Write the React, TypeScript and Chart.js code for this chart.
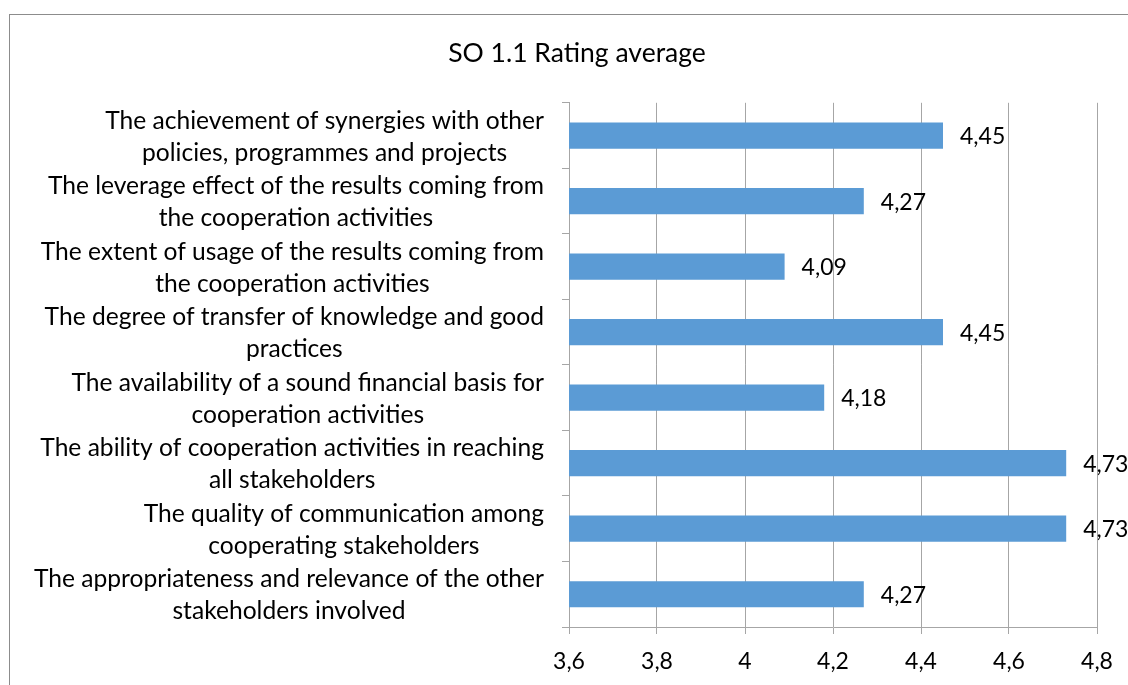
import React, { useEffect, useRef } from "react";
import { Chart, registerables } from "chart.js";

Chart.register(...registerables);

const categories: string[][] = [
  ["The achievement of synergies with other", "policies, programmes and projects"],
  ["The leverage effect of the results coming from", "the cooperation activities"],
  ["The extent of usage of the results coming from", "the cooperation activities"],
  ["The degree of transfer of knowledge and good", "practices"],
  ["The availability of a sound financial basis for", "cooperation activities"],
  ["The ability of cooperation activities in reaching", "all stakeholders"],
  ["The quality of communication among", "cooperating stakeholders"],
  ["The appropriateness and relevance of the other", "stakeholders involved"],
];
const values: number[] = [4.45, 4.27, 4.09, 4.45, 4.18, 4.73, 4.73, 4.27];
const xMin = 3.6;
const xMax = 4.8;
const xStep = 0.2;
const title = "SO 1.1 Rating average";

const FONT = "Lato, 'Noto Sans', sans-serif";
const GRID = "#A6A6A6";

const fmtTick = (v: number) => String(Math.round(v * 10) / 10).replace(".", ",");
const fmtVal = (v: number) => v.toFixed(2).replace(".", ",");

const customPlugin = {
  id: "customDraw",
  beforeDraw(chart: any) {
    const ctx = chart.ctx;
    ctx.save();
    ctx.strokeStyle = "#8C8C8C";
    ctx.lineWidth = 1;
    ctx.strokeRect(9.5, 14.5, 1400, 900);
    ctx.restore();
  },
  afterDatasetsDraw(chart: any) {
    const ctx = chart.ctx;
    const meta = chart.getDatasetMeta(0);
    ctx.save();
    ctx.font = `23px ${FONT}`;
    ctx.fillStyle = "#000";
    ctx.textAlign = "left";
    ctx.textBaseline = "middle";
    meta.data.forEach((el: any, i: number) => {
      ctx.fillText(fmtVal(values[i]), el.x + 17, el.y + 1);
    });
    ctx.restore();
  },
  afterDraw(chart: any) {
    const ctx = chart.ctx;
    const yScale = chart.scales.y;
    const right = chart.chartArea.left - 25;
    const lineH = 32;
    ctx.save();
    ctx.font = `24.6px ${FONT}`;
    ctx.fillStyle = "#000";
    ctx.textAlign = "center";
    ctx.textBaseline = "middle";
    categories.forEach((lines, i) => {
      const y = yScale.getPixelForTick(i) + 1;
      const maxW = Math.max(...lines.map((l) => ctx.measureText(l).width));
      const cx = right - maxW / 2;
      const y0 = y - ((lines.length - 1) * lineH) / 2;
      lines.forEach((l, j) => ctx.fillText(l, cx, y0 + j * lineH));
    });
    ctx.restore();
  },
};

export default function App() {
  const ref = useRef<HTMLCanvasElement | null>(null);
  useEffect(() => {
    if (!ref.current) return;
    const chart = new Chart(ref.current, {
      type: "bar",
      data: {
        labels: categories.map((c) => c.join(" ")),
        datasets: [
          {
            data: values,
            backgroundColor: "#5B9BD5",
            borderWidth: 0,
            barPercentage: 0.4,
            categoryPercentage: 1,
          },
        ],
      },
      options: {
        indexAxis: "y",
        responsive: false,
        animation: false,
        layout: { padding: { left: 57, right: 31, top: 0, bottom: 0 } },
        plugins: {
          legend: { display: false },
          tooltip: { enabled: false },
          title: {
            display: true,
            text: title,
            color: "#000",
            font: { family: FONT, size: 26.5, weight: "normal", lineHeight: 1.2 },
            padding: { top: 38, bottom: 33 },
          },
        },
        scales: {
          x: {
            min: xMin,
            max: xMax,
            afterFit: (s: any) => {
              s.height = 58;
            },
            ticks: {
              stepSize: xStep,
              color: "#000",
              font: { family: FONT, size: 23 },
              padding: 14,
              callback: (v: any) => fmtTick(Number(v)),
            },
            grid: { color: GRID, tickLength: 7, drawTicks: true },
            border: { color: GRID },
          },
          y: {
            afterFit: (s: any) => {
              s.width = 512;
            },
            ticks: { display: false },
            grid: { color: GRID, drawOnChartArea: false, tickLength: 7, offset: true },
            border: { color: GRID },
          },
        },
      },
      plugins: [customPlugin],
    } as any);
    return () => chart.destroy();
  }, []);
  return (
    <div style={{ position: "fixed", left: 0, top: 0, width: 1128, height: 685, background: "#fff" }}>
      <canvas ref={ref} width={1128} height={685} style={{ display: "block" }} />
    </div>
  );
}
